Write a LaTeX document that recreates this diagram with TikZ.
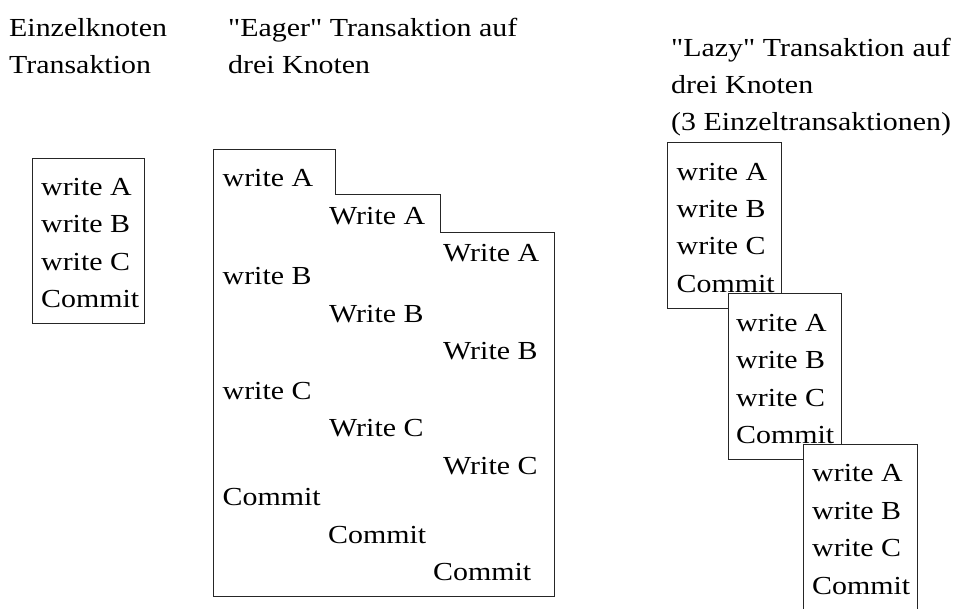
\documentclass[tikz,border=0pt]{standalone}
\usepackage{fontspec}
\setmainfont[FakeStretch=1.15,Ligatures=TeXOff]{Liberation Serif}
\begin{document}
\begin{tikzpicture}[x=1pt,y=-1pt,
  txt/.style={anchor=base west, inner sep=0pt, font=\fontsize{26}{31}\selectfont},
  frame/.style={draw=black!85, line width=1pt},
  boxfill/.style={frame, fill=white}]
\clip (0,0) rectangle (961,608);
% headers
\node[txt] (h1a) at (9,36.5) {Einzelknoten};
\node[txt] (h1b) at (9,73) {Transaktion};
\node[txt] (h2a) at (228,36.5) {"Eager" Transaktion auf};
\node[txt] (h2b) at (228,73) {drei Knoten};
\node[txt] (h3a) at (671,56) {"Lazy" Transaktion\hspace{8pt}auf};
\node[txt] (h3b) at (671,93) {drei Knoten};
\node[txt] (h3c) at (671,130) {(3 Einzeltransaktionen)};
% single node transaction
\draw[frame] (32,158) rectangle (144,323);
\node[txt] (s1) at (41,195) {write A};
\node[txt] (s2) at (41,232.5) {write B};
\node[txt] (s3) at (41,270) {write C};
\node[txt] (s4) at (41,307) {Commit};
% eager
\draw[frame] (213,149) -- (335,149) -- (335,194) -- (440,194) -- (440,232)
  -- (554,232) -- (554,596) -- (213,596) -- cycle;
\node[txt] (e1) at (222.5,186) {write A};
\node[txt] (e2) at (329,224) {Write A};
\node[txt] (e3) at (443,261.5) {Write A};
\node[txt] (e4) at (222.5,284) {write B};
\node[txt] (e5) at (329,322.5) {Write B};
\node[txt] (e6) at (443,359) {Write B};
\node[txt] (e7) at (222.5,399) {write C};
\node[txt] (e8) at (329,436) {Write C};
\node[txt] (e9) at (443,474) {Write C};
\node[txt] (e10) at (222.5,505) {Commit};
\node[txt] (e11) at (328,543) {Commit};
\node[txt] (e12) at (433,580) {Commit};
% lazy
\draw[boxfill] (667,142) rectangle (781,308);
\draw[boxfill] (728,293) rectangle (841,459);
\draw[boxfill] (803,444) rectangle (917,620);
\node[txt] (l1) at (676.5,180) {write A};
\node[txt] (l2) at (676.5,217.5) {write B};
\node[txt] (l3) at (676.5,254.5) {write C};
\node[txt] (l4) at (676.5,292.5) {Commit};
\node[txt] (m1) at (736,331) {write A};
\node[txt] (m2) at (736,368) {write B};
\node[txt] (m3) at (736,406) {write C};
\node[txt] (m4) at (736,443.5) {Commit};
\node[txt] (n1) at (812,481.5) {write A};
\node[txt] (n2) at (812,519) {write B};
\node[txt] (n3) at (812,556.5) {write C};
\node[txt] (n4) at (812,594) {Commit};
\end{tikzpicture}
\end{document}
